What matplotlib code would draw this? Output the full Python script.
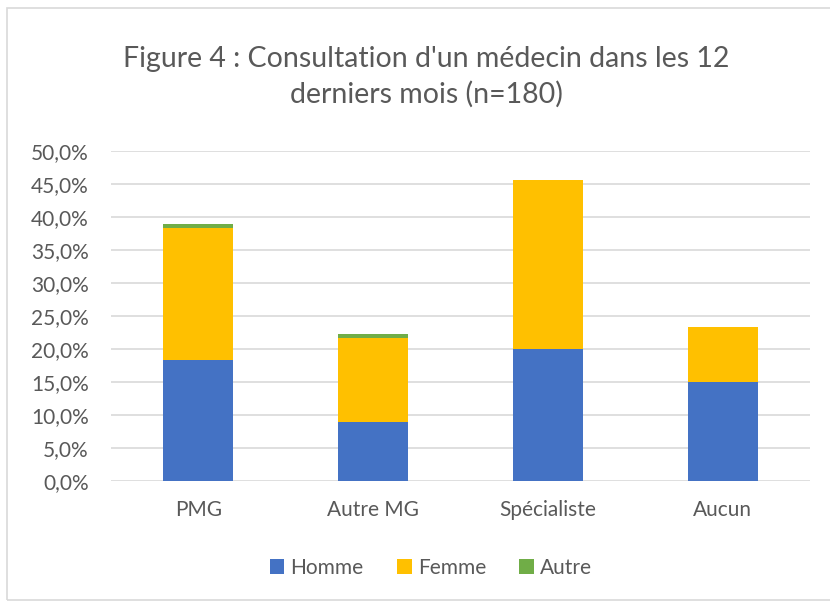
import numpy as np
import matplotlib.pyplot as plt
from matplotlib.patches import Rectangle
from matplotlib.ticker import FuncFormatter

categories = ["PMG", "Autre MG", "Spécialiste", "Aucun"]
homme = [18.3, 8.9, 20.0, 15.0]
femme = [20.0, 12.8, 25.6, 8.3]
autre = [0.6, 0.6, 0.0, 0.0]

colors = ["#4472C4", "#FFC000", "#70AD47"]
text_color = "#595959"

plt.rcParams['font.family'] = ['Lato', 'DejaVu Sans']

fig = plt.figure(figsize=(8.3, 6.07), dpi=100)
ax = fig.add_axes([111 / 830, 1 - 481 / 607, 699 / 830, 330 / 607])

x = np.arange(len(categories))
bottom2 = np.array(homme) + np.array(femme)
ax.bar(x, homme, 0.4, color=colors[0], label="Homme", zorder=3)
ax.bar(x, femme, 0.4, bottom=homme, color=colors[1], label="Femme", zorder=3)
ax.bar(x, autre, 0.4, bottom=bottom2, color=colors[2], label="Autre", zorder=3)

ax.set_xlim(-0.5, 3.5)
ax.set_ylim(0, 50)
ax.set_yticks(np.arange(0, 51, 5))
ax.yaxis.set_major_formatter(FuncFormatter(lambda v, p: f"{v:.1f}%".replace(".", ",")))
ax.grid(axis="y", color="#D9D9D9", linewidth=1.2, zorder=0)
ax.set_xticks(x)
ax.set_xticklabels(categories)
ax.tick_params(axis="both", length=0, labelsize=15, colors=text_color)
ax.tick_params(axis="y", pad=16)
ax.tick_params(axis="x", pad=14)
for s in ax.spines.values():
    s.set_visible(False)

fig.text(426 / 830, 1 - 77 / 607, "Figure 4 : Consultation d'un médecin dans les 12\nderniers mois (n=180)",
         ha="center", va="center", fontsize=20.5, color=text_color, linespacing=1.4,
         multialignment="center")

fig.legend(loc="center", bbox_to_anchor=(431 / 830, 1 - 568 / 607), ncol=3, frameon=False,
           fontsize=15, labelcolor=text_color, handlelength=0.7, handleheight=0.7,
           columnspacing=1.6, handletextpad=0.3)

fig.patches.append(Rectangle((7 / 830, 1 - 600 / 607), 830, 592 / 607, transform=fig.transFigure,
                             fill=False, edgecolor="#D9D9D9", linewidth=1.2))

fig.savefig("out.png", dpi=100)
